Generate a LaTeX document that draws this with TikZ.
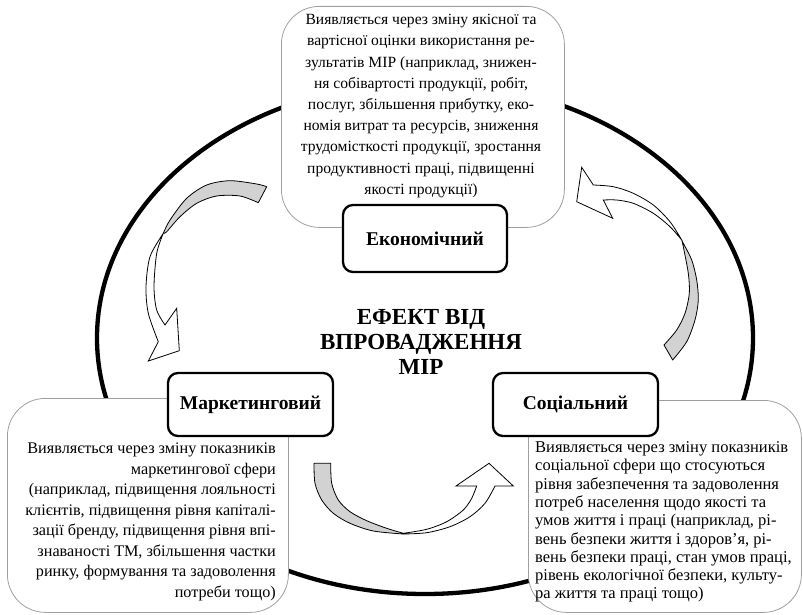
\documentclass[tikz,border=0pt]{standalone}
\usepackage{fontspec}
\setmainfont{Liberation Serif}
\begin{document}
\begin{tikzpicture}[x=1pt,y=-1pt,
  ring/.style={draw=black, line width=4.3pt},
  descbox/.style={draw=gray!75, line width=0.8pt, fill=white, rounded corners=38pt, inner sep=0pt},
  lblbox/.style={draw=black, line width=2.3pt, fill=white, rounded corners=10pt, inner sep=0pt,
                 font=\fontsize{19.5}{22}\selectfont\bfseries},
  bodytext/.style={inner sep=0pt},
  titletext/.style={inner sep=0pt, align=center, font=\fontsize{23}{25}\selectfont\bfseries},
  band/.style={draw=black, line width=0.8pt, fill=gray!35, line join=round},
  face/.style={draw=black, line width=0.8pt, fill=white, line join=miter}]
\useasboundingbox (0,0) rectangle (803,615);

% outer ring
\draw[ring] (425,338) ellipse [x radius=328, y radius=256];

% description panels
\node[descbox, minimum width=283pt, minimum height=221pt, anchor=north west] (ecobox) at (281,6) {};
\node[descbox, minimum width=281pt, minimum height=214pt, anchor=north west] (mktbox) at (7,398) {};
\node[descbox, minimum width=273pt, minimum height=212pt, anchor=north west] (socbox) at (528,400) {};

\node[bodytext, align=center, font=\fontsize{15.6}{21.2}\selectfont] (ecotext) at (421,106) {%
Виявляється через зміну якісної та\\
вартісної оцінки використання ре-\\
зультатів МІР (наприклад, знижен-\\
ня собівартості продукції, робіт,\\
послуг, збільшення прибутку, еко-\\
номія витрат та ресурсів, зниження\\
трудомісткості продукції, зростання\\
продуктивності праці, підвищенні\\
якості продукції)};

\node[bodytext, align=right, anchor=east, font=\fontsize{16.2}{20.5}\selectfont] (mkttext) at (276,522) {%
Виявляється через зміну показників\\
маркетингової сфери\\
(наприклад, підвищення лояльності\\
клієнтів, підвищення рівня капіталі-\\
зації бренду, підвищення рівня впі-\\
знаваності ТМ, збільшення частки\\
ринку, формування та задоволення\\
потреби тощо)};

\node[bodytext, align=left, anchor=west, font=\fontsize{16.5}{18.3}\selectfont] (soctext) at (535,522) {%
Виявляється через зміну показників\\
соціальної сфери що стосуються\\
рівня забезпечення та задоволення\\
потреб населення щодо якості та\\
умов життя і праці (наприклад, рі-\\
вень безпеки життя і здоров’я, рі-\\
вень безпеки праці, стан умов праці,\\
рівень екологічної безпеки, культу-\\
ра життя та праці тощо)};

% category labels
\node[lblbox, minimum width=164pt, minimum height=67pt] (eco) at (425,238.5) {Економічний};
\node[lblbox, minimum width=165pt, minimum height=63pt] (mkt) at (250.5,404.5) {Маркетинговий};
\node[lblbox, minimum width=165pt, minimum height=63pt] (soc) at (575.5,404.5) {Соціальний};

% centre title
\node[titletext] (title) at (421,342) {ЕФЕКТ ВІД\\ВПРОВАДЖЕННЯ\\МІР};

% curved arrow: economic -> marketing
\draw[band] plot[smooth] coordinates {(266.7,186.7) (256.7,184) (230,180.7) (206.7,185) (186.7,198.3) (170,220) (163.3,233.3)}
  -- plot[smooth] coordinates {(163.3,233.3) (166.7,231.7) (180,216.7) (196.7,203.3) (216.7,196) (240,196) (258.3,202.7)} -- cycle;
\draw[face] plot[smooth] coordinates {(163.3,233.3) (150,256.7) (146,286.7) (148.3,313.3) (158.3,341.7)}
  -- (148.3,361) -- (179.3,350.7) -- (176.7,308.3) -- (165,325)
  -- plot[smooth] coordinates {(165,325) (156.7,310) (154,286.7) (156.7,253.3) (163.3,233.3)} -- cycle;

% curved arrow: marketing -> social
\draw[band] plot[smooth] coordinates {(314,463.3) (315,483.3) (321.7,500) (333.3,513.3) (350,523.3) (373.3,531) (403.3,534)}
  -- plot[smooth] coordinates {(403.3,533.3) (386.7,528.3) (366.7,520.7) (350,511.7) (338.3,500) (331.7,483.3) (330.7,463.3)} -- cycle;
\draw[face] plot[smooth] coordinates {(403.3,534) (426.7,532.7) (450,526.7) (470,516.7) (485,503.3) (495,486)}
  -- (513.3,486) -- (489,463.3) -- (456,486) -- (476.7,486)
  -- plot[smooth] coordinates {(476.7,486) (471.7,498.3) (463.3,510) (446.7,521.7) (426.7,529.3) (403.3,533.3)} -- cycle;

% curved arrow: social -> economic
\draw[band] plot[smooth] coordinates {(672.7,360) (686.7,341.7) (695,320) (698.3,300) (696.7,280) (691.7,260) (683.3,243.3) (681.7,240)}
  -- plot[smooth] coordinates {(681.7,240) (683.3,246.7) (688.3,273.3) (689.3,293.3) (685,313.3) (676.7,330) (664,345)} -- cycle;
\draw[face] plot[smooth] coordinates {(681.7,240) (670,221.7) (653.3,205) (633.3,193.3) (613.3,186.7) (593.3,185)}
  -- (581.7,167.3) -- (576.7,201.7) -- (612.7,218.3) -- (603.3,200)
  -- plot[smooth] coordinates {(603.3,200) (616.7,200) (633.3,203.3) (653.3,213.3) (670,226.7) (681.7,240)} -- cycle;
\end{tikzpicture}
\end{document}
